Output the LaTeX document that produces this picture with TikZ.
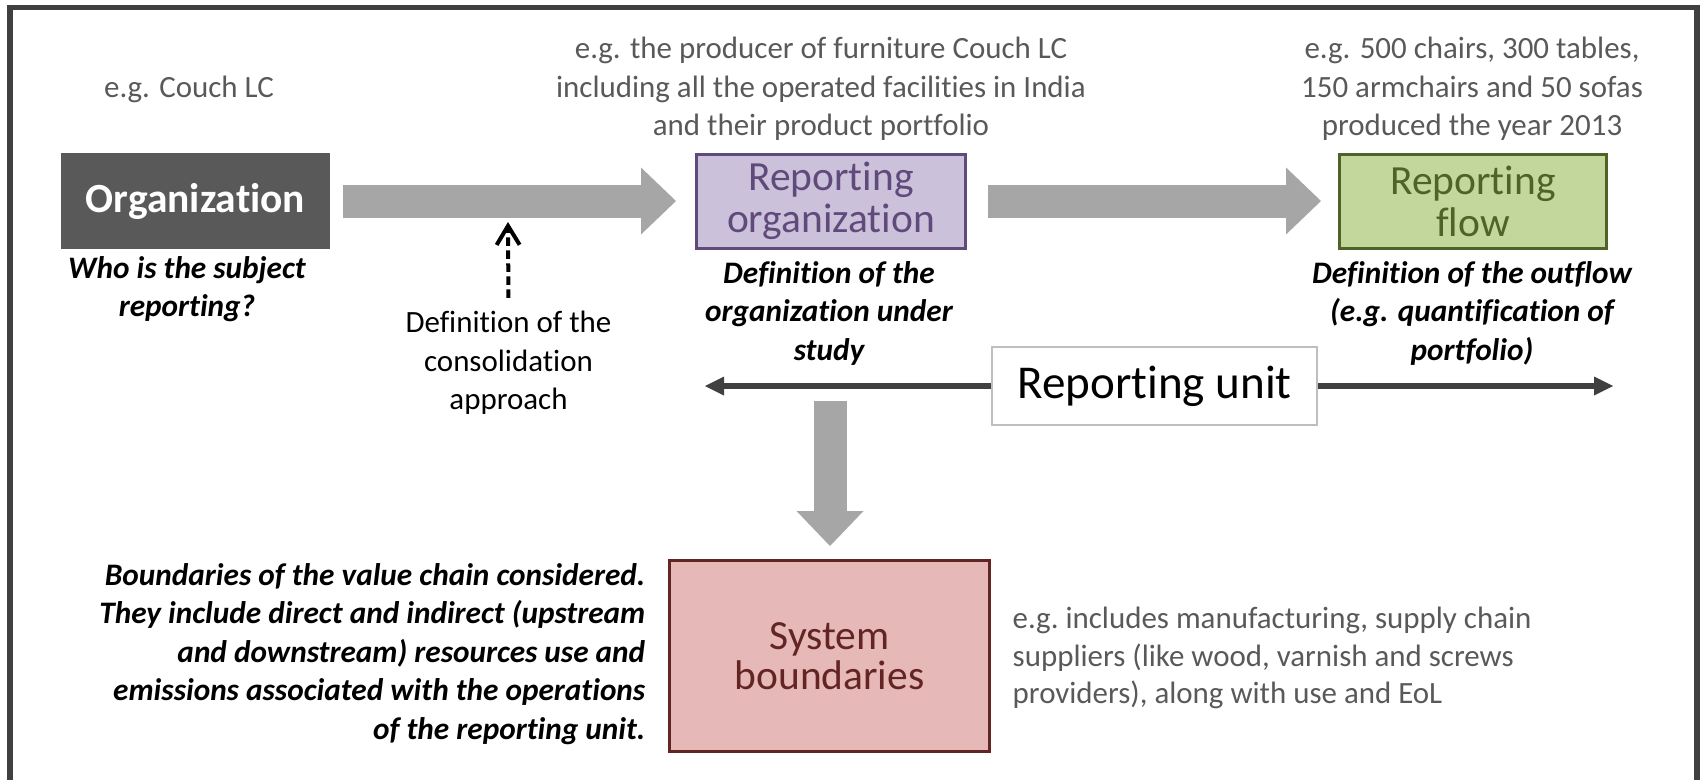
\documentclass[tikz,border=0pt]{standalone}
\usepackage{fontspec}
\setmainfont{Carlito}[Ligatures=NoCommon]
\usetikzlibrary{arrows.meta}
\definecolor{darkbox}{HTML}{595959}
\definecolor{arrowgray}{HTML}{A6A6A6}
\definecolor{linegray}{HTML}{404040}
\definecolor{notegray}{HTML}{595959}
\definecolor{purplefill}{HTML}{CCC1DA}
\definecolor{purpleline}{HTML}{604A7B}
\definecolor{greenfill}{HTML}{C3D69B}
\definecolor{greenline}{HTML}{4F6228}
\definecolor{redfill}{HTML}{E6B9B8}
\definecolor{redline}{HTML}{632523}

\begin{document}
\begin{tikzpicture}[
    box/.style={rectangle, inner sep=0pt, align=center, font=\fontsize{11.8}{11.95}\selectfont},
    note/.style={inner sep=0pt, align=center, text=notegray, font=\fontsize{8.8}{10.9}\selectfont},
    quest/.style={inner sep=0pt, align=center, font=\fontsize{8.9}{10.95}\selectfont\bfseries\itshape},
    bigarrow/.style={draw=arrowgray, line width=3.3mm, -{Triangle[length=3.5mm,width=6.7mm,line width=0pt]}},
    unitarrow/.style={draw=linegray, line width=0.65mm, -{Triangle[length=1.9mm,width=1.9mm,line width=0pt]}},
    dasharrow/.style={draw=black, line width=0.4mm, dash pattern=on 0.85mm off 0.45mm, -{Straight Barb[length=1.9mm,width=2.3mm]}}]
			\useasboundingbox (0,0) rectangle (17,-7.79);
			\draw[line width=0.55mm, linegray] (0.10,-7.9) -- (0.10,-0.075) -- (16.97,-0.075) -- (16.97,-7.9);

			\node[box, fill=darkbox, text=white, minimum width=2.69cm, minimum height=0.96cm, font=\fontsize{11.8}{11.95}\selectfont\bfseries] (org) at (1.955,-2.01) {Organization};
			\node[box, fill=purplefill, draw=purpleline, line width=0.3mm, text=purpleline, minimum width=2.69cm, minimum height=0.94cm] (rorg) at (8.31,-2.01) {Reporting\\organization};
			\node[box, fill=greenfill, draw=greenline, line width=0.3mm, text=greenline, minimum width=2.67cm, minimum height=0.94cm] (rflow) at (14.73,-2.01) {Reporting\\flow};
			\node[box, fill=redfill, draw=redline, line width=0.3mm, text=redline, minimum width=3.2cm, minimum height=1.91cm, font=\fontsize{11.8}{11.4}\selectfont] (sysb) at (8.295,-6.56) {System\\boundaries};
			\node[draw=black!25, fill=white, line width=0.15mm, inner sep=0pt, minimum width=3.25cm, minimum height=0.78cm, font=\fontsize{13.4}{16}\selectfont] (runit) at (11.545,-3.86) {Reporting unit};

			% notes above the boxes
			\node[note] (egorg) at (1.89,-0.89) {e.g. Couch LC};
			\node[note] (egrorg) at (8.21,-0.89) {e.g. the producer of furniture Couch LC\\including all the operated facilities in India\\and their product portfolio};
			\node[note] (egrflow) at (14.72,-0.89) {e.g. 500 chairs, 300 tables,\\150 armchairs and 50 sofas\\produced the year 2013};

			% questions below the boxes
			\node[quest] (qorg) at (1.87,-2.89) {Who is the subject\\reporting?};
			\node[quest] (qrorg) at (8.29,-3.13) {Definition of the\\organization under\\study};
			\node[quest] (qrflow) at (14.72,-3.13) {Definition of the outflow\\(e.g. quantification of\\portfolio)};
			\node[quest, align=right, anchor=east] (qsysb) at (6.46,-6.54) {Boundaries of the value chain considered.\\They include direct and indirect (upstream\\and downstream) resources use and\\emissions associated with the operations\\of the reporting unit.};
			\node[note, align=left, anchor=west, font=\fontsize{8.8}{10.7}\selectfont] (egsysb) at (10.12,-6.58) {e.g.\ includes manufacturing, supply chain\\suppliers (like wood, varnish and screws\\providers), along with use and EoL};
			\node[inner sep=0pt, align=center, font=\fontsize{8.8}{10.9}\selectfont] (cons) at (5.085,-3.63) {Definition of the\\consolidation\\approach};

			\coordinate (constip) at (5.08,-2.22);
			\coordinate (ruL) at (7.05,-3.86);
			\coordinate (ruR) at (16.13,-3.86);
			\coordinate (dtop) at (8.30,-4.01);

			\draw[bigarrow, shorten <=0.12cm, shorten >=0.19cm] (org) -- (rorg);
			\draw[bigarrow, shorten <=0.21cm, shorten >=0.17cm] (rorg) -- (rflow);
			\draw[bigarrow, shorten >=0.13cm] (dtop) -- (dtop |- sysb.north);
			\draw[unitarrow] (runit.west) -- (ruL);
			\draw[unitarrow] (runit.east) -- (ruR);
			\draw[dasharrow, shorten <=0.13cm] (cons.north) -- (constip);
		\end{tikzpicture}
\end{document}
